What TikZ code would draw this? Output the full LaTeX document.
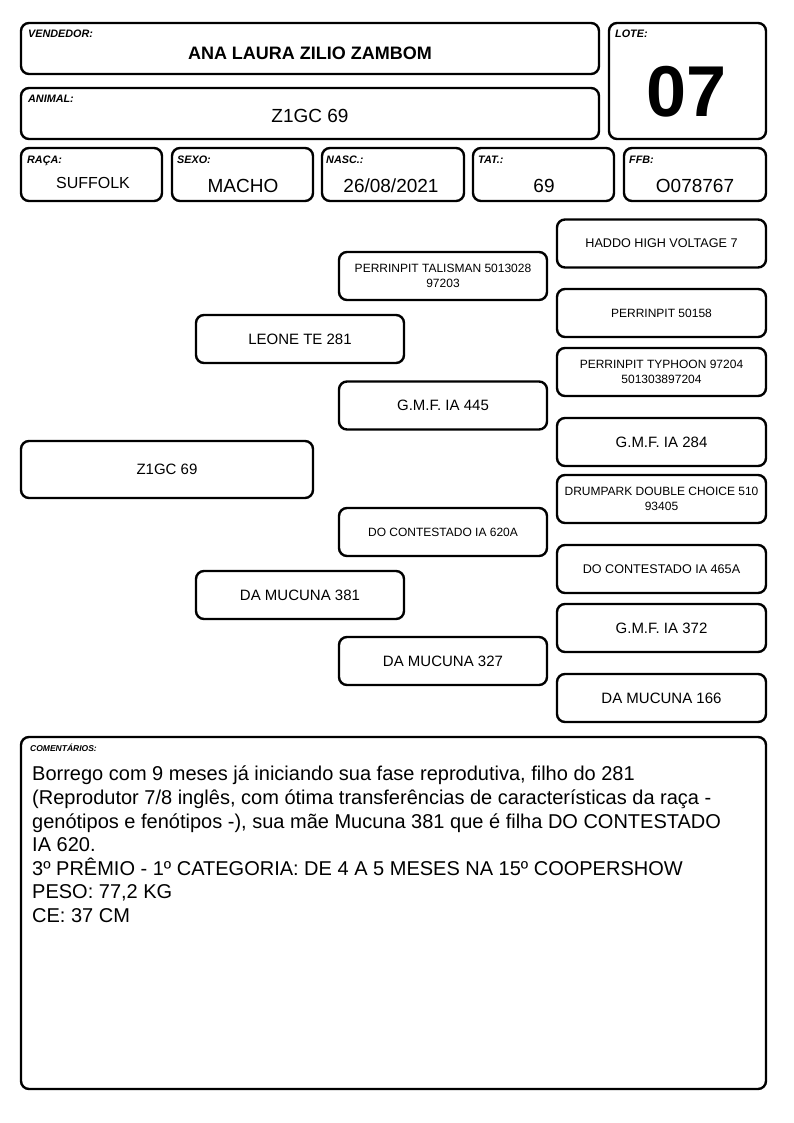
\documentclass[tikz,border=0pt]{standalone}
\usepackage{fontspec}
\setmainfont{Liberation Sans}
\usetikzlibrary{positioning}

\newcommand{\fsz}[1]{\fontsize{#1}{#1}\selectfont}

\begin{document}
\begin{tikzpicture}[x=1pt,y=-1pt,
    card/.style={draw, line width=2.4pt, rounded corners=8pt, inner sep=0pt},
    tag/.style={anchor=base west, inner sep=0pt, font=\fsz{10.8}\bfseries\itshape},
    val/.style={inner sep=0pt, font=\fsz{19}},
    ped/.style={card, minimum width=208pt, minimum height=48pt, align=center},
    big/.style={font=\fontsize{15}{18}\selectfont},
    small/.style={font=\fontsize{12}{15}\selectfont}]
    \useasboundingbox (0,0) rectangle (794,1123);

    % header
    \node [card, minimum width=578pt, minimum height=51pt] (vendbox) at (310,48.5) {};
    \node [tag] (vendtag) at (28,38) {VENDEDOR:};
    \node [val, font=\fsz{18}\bfseries] (vend) at (310,53) {ANA LAURA ZILIO ZAMBOM};

    \node [card, minimum width=578pt, minimum height=51pt] (animalbox) at (310,113.5) {};
    \node [tag] (animaltag) at (28,103) {ANIMAL:};
    \node [val] (animal) at (310,116) {Z1GC 69};

    \node [card, minimum width=157pt, minimum height=116pt] (lotebox) at (687.5,81) {};
    \node [tag] (lotetag) at (615,38) {LOTE:};
    \node [val, font=\fsz{72}\bfseries] (lote) at (687,92) {07};

    \node [card, minimum width=141pt, minimum height=53pt] (racabox) at (91.5,174.5) {};
    \node [tag] (racatag) at (27,164) {RAÇA:};
    \node [val, font=\fsz{16}] (raca) at (93,182.5) {SUFFOLK};

    \node [card, minimum width=141pt, minimum height=53pt] (sexobox) at (242.5,174.5) {};
    \node [tag] (sexotag) at (177,164) {SEXO:};
    \node [val] (sexo) at (243,186) {MACHO};

    \node [card, minimum width=142pt, minimum height=53pt] (nascbox) at (393,174.5) {};
    \node [tag] (nasctag) at (326,164) {NASC.:};
    \node [val] (nasc) at (391,186) {26/08/2021};

    \node [card, minimum width=141pt, minimum height=53pt] (tatbox) at (543.5,174.5) {};
    \node [tag] (tattag) at (478,164) {TAT.:};
    \node [val] (tat) at (544,186) {69};

    \node [card, minimum width=142pt, minimum height=53pt] (ffbbox) at (695,174.5) {};
    \node [tag] (ffbtag) at (629,164) {FFB:};
    \node [val] (ffb) at (695,186) {O078767};

    % pedigree
    \node [ped, big, minimum width=292pt, minimum height=57pt] (animalped) at (167,469.5) {Z1GC 69};

    \node [ped, big] (pai) at (300,339) {LEONE TE 281};
    \node [ped, big] (mae) at (300,595) {DA MUCUNA 381};

    \node [ped, small] (avopp) at (443,276) {PERRINPIT TALISMAN 5013028\\97203};
    \node [ped, big] (avopm) at (443,405.5) {G.M.F. IA 445};
    \node [ped, small] (avomp) at (443,532) {DO CONTESTADO IA 620A};
    \node [ped, big] (avomm) at (443,661) {DA MUCUNA 327};

    \node [ped, minimum width=209pt, font=\fsz{12.6}] (bis1) at (661.5,243.5) {HADDO HIGH VOLTAGE 7};
    \node [ped, minimum width=209pt, small] (bis2) at (661.5,313) {PERRINPIT 50158};
    \node [ped, minimum width=209pt, small] (bis3) at (661.5,372) {PERRINPIT TYPHOON 97204\\501303897204};
    \node [ped, minimum width=209pt, big] (bis4) at (661.5,442) {G.M.F. IA 284};
    \node [ped, minimum width=209pt, small] (bis5) at (661.5,499) {DRUMPARK DOUBLE CHOICE 510\\93405};
    \node [ped, minimum width=209pt, font=\fsz{12.6}] (bis6) at (661.5,569) {DO CONTESTADO IA 465A};
    \node [ped, minimum width=209pt, big] (bis7) at (661.5,628) {G.M.F. IA 372};
    \node [ped, minimum width=209pt, big] (bis8) at (661.5,698) {DA MUCUNA 166};

    % comments
    \node [card, minimum width=745pt, minimum height=352pt] (combox) at (393.5,913) {};
    \node [tag, font=\fsz{8.5}\bfseries\itshape] (comtag) at (30,751) {COMENTÁRIOS:};
    \node [anchor=north west, inner sep=0pt, align=left, font=\fontsize{20}{23.6}\selectfont] (com) at (32,766)
      {Borrego com 9 meses já iniciando sua fase reprodutiva, filho do 281\\
       (Reprodutor 7/8 inglês, com ótima transferências de características da raça -\\
       genótipos e fenótipos -), sua mãe Mucuna 381 que é filha DO CONTESTADO\\
       IA 620.\\
       3º PRÊMIO - 1º CATEGORIA: DE 4 A 5 MESES NA 15º COOPERSHOW\\
       PESO: 77,2 KG\\
       CE: 37 CM};
\end{tikzpicture}
\end{document}
